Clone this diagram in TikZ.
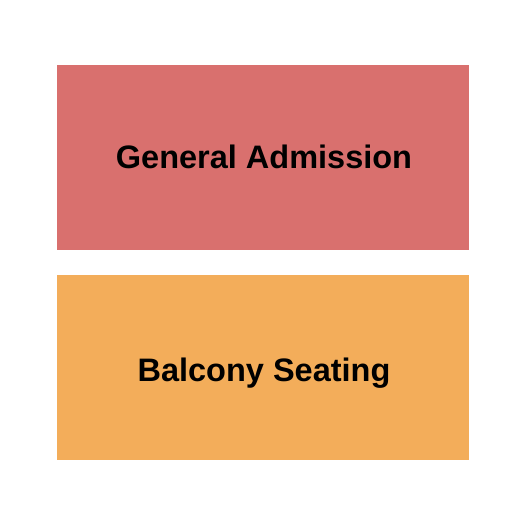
\documentclass[tikz,border=0pt]{standalone}
\usepackage{fontspec}
\setmainfont{Liberation Sans}
\usepackage{tikz, xcolor}
\definecolor{gacolor}{HTML}{D9706E}
\definecolor{bscolor}{HTML}{F3AD5A}
\tikzset{section/.style={draw=none}, seclabel/.style={font=\fontsize{32.5}{39}\selectfont\bfseries}}

\begin{document}
\begin{tikzpicture}[x=1pt, y=-1pt]
    \useasboundingbox [fill=white] (0,0) rectangle (525,525);
    \fill [gacolor, section] (57,65) rectangle (469,250);
    \fill [bscolor, section] (57,275) rectangle (469,460);
    \node [seclabel] (ga) at (264,157) {General Admission};
    \node [seclabel] (bs) at (264,373) {Balcony Seating};
    \end{tikzpicture}
\end{document}
